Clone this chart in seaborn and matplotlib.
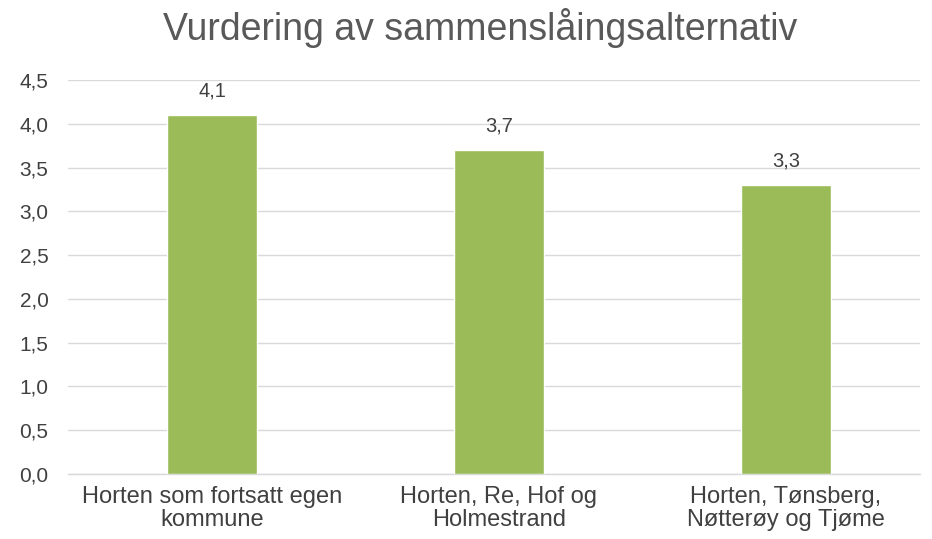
import matplotlib
matplotlib.use('Agg')
import matplotlib.pyplot as plt
import seaborn as sns
import pandas as pd
from matplotlib.ticker import FuncFormatter

# Data
categories = ['Horten som fortsatt egen\nkommune',
              'Horten, Re, Hof og\nHolmestrand',
              'Horten, Tønsberg,\nNøtterøy og Tjøme']
values = [4.1, 3.7, 3.3]
value_labels = ['4,1', '3,7', '3,3']
y_ticks = [0.0, 0.5, 1.0, 1.5, 2.0, 2.5, 3.0, 3.5, 4.0, 4.5]

df = pd.DataFrame({'alternativ': categories, 'verdi': values})

sns.set_style('white')
plt.rcParams['font.family'] = ['Liberation Sans', 'DejaVu Sans']

fig = plt.figure(figsize=(9.32, 5.39), dpi=100)
ax = fig.add_axes([0.073, 0.1206, 0.914, 0.731])

sns.barplot(data=df, x='alternativ', y='verdi', color='#9BBB59',
            width=0.315, saturation=1, ax=ax, zorder=3)

# Value labels
for i, (v, lab) in enumerate(zip(values, value_labels)):
    ax.text(i, v + 0.17, lab, ha='center', va='bottom',
            fontsize=14.5, color='#404040')

ax.set_xlim(-0.502, 2.467)
ax.set_ylim(0, 4.5)
ax.set_yticks(y_ticks)
ax.yaxis.set_major_formatter(FuncFormatter(lambda v, p: f'{v:.1f}'.replace('.', ',')))
ax.grid(True, axis='y', color='#D9D9D9', linewidth=1, zorder=0)
ax.set_axisbelow(True)

for s in ['top', 'right', 'left']:
    ax.spines[s].set_visible(False)
ax.spines['bottom'].set_color('#D9D9D9')
ax.spines['bottom'].set_linewidth(1)

ax.tick_params(axis='y', length=0, labelsize=15, labelcolor='#404040', pad=14)
ax.tick_params(axis='x', length=0, labelsize=17, labelcolor='#404040', pad=9)
for t in ax.get_xticklabels():
    t.set_linespacing(1.05)
ax.set_xlabel('')
ax.set_ylabel('')

# Title
fig.text(480 / 932, 1 - 28 / 539, 'Vurdering av sammenslåingsalternativ',
         fontsize=27, color='#595959', ha='center', va='center')

fig.savefig('out.png', dpi=100, facecolor='white')
